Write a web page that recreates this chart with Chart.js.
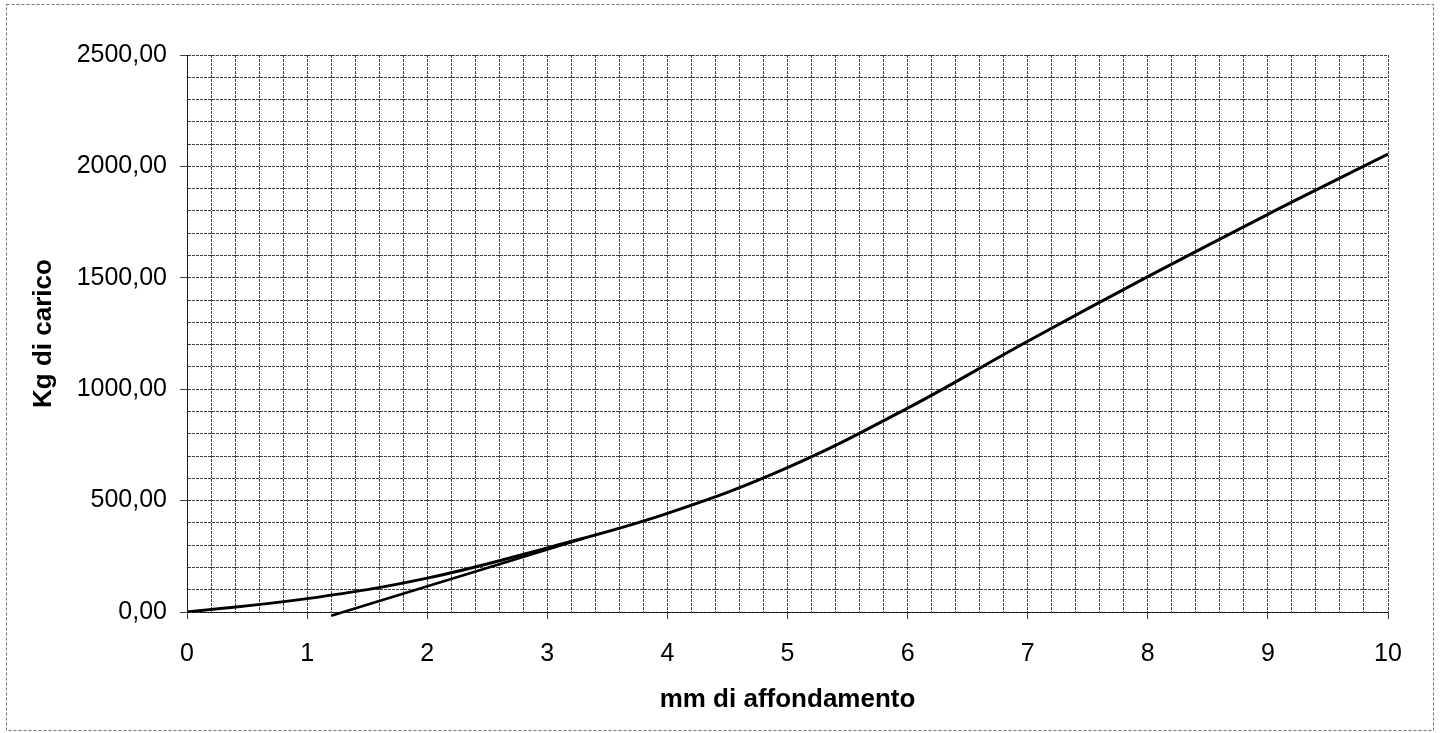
<!DOCTYPE html>
<html>
<head>
<meta charset="utf-8">
<script src="https://cdn.jsdelivr.net/npm/chart.js@4"></script>
<style>
html,body{margin:0;padding:0;background:#fff;}
canvas{display:block;}
</style>
</head>
<body>
<canvas id="c" width="1443" height="733"></canvas>
<script>
const depthMm = [0, 1, 2, 3, 4, 5, 6, 7, 8, 9, 10];
const loadKg = [0, 60, 152, 288, 443, 648, 915, 1215, 1505, 1785, 2055];
const tangentMm = [1.2, 3.3];
const tangentKg = [-17, 330];
const xTickLabels = ['0','1','2','3','4','5','6','7','8','9','10'];
const yTickLabels = ['0,00','500,00','1000,00','1500,00','2000,00','2500,00'];
const xTitle = 'mm di affondamento';
const yTitle = 'Kg di carico';

const FONT = "'Liberation Sans', Arial, sans-serif";
const isInt = v => Math.abs(v - Math.round(v)) < 1e-6;
const isMajorY = v => Math.abs(v / 500 - Math.round(v / 500)) < 1e-6;

const frame = {
  id: 'frame',
  beforeDraw(chart) {
    const ctx = chart.ctx;
    ctx.save();
    ctx.fillStyle = '#fff';
    ctx.fillRect(0, 0, chart.width, chart.height);
    ctx.strokeStyle = 'rgba(0,0,0,0.55)';
    ctx.lineWidth = 1;
    ctx.setLineDash([3, 2]);
    ctx.strokeRect(6.5, 4.5, 1427, 726);
    ctx.restore();
  }
};

const gridColor = 'rgba(0,0,0,0.75)';

new Chart(document.getElementById('c'), {
  type: 'scatter',
  data: {
    datasets: [
      {
        data: depthMm.map((x, i) => ({x, y: loadKg[i]})),
        showLine: true,
        borderColor: '#000',
        borderWidth: 3,
        pointRadius: 0,
        tension: 0.4,
        fill: false
      },
      {
        data: tangentMm.map((x, i) => ({x, y: tangentKg[i]})),
        showLine: true,
        borderColor: '#000',
        borderWidth: 2.5,
        pointRadius: 0,
        tension: 0,
        fill: false,
        clip: 10
      }
    ]
  },
  options: {
    responsive: false,
    animation: false,
    layout: {padding: {left: 0, right: 55, top: 55, bottom: 0}},
    plugins: {legend: {display: false}, tooltip: {enabled: false}},
    scales: {
      x: {
        type: 'linear',
        min: 0, max: 10,
        afterFit(s) { s.height = 121; },
        ticks: {
          stepSize: 0.2,
          autoSkip: false,
          maxRotation: 0,
          color: '#000',
          padding: 20,
          font: {family: FONT, size: 25},
          callback: v => isInt(v) ? xTickLabels[Math.round(v)] : ''
        },
        grid: {
          color: gridColor,
          lineWidth: 1,
          tickLength: 7,
          tickColor: ctx => (ctx.tick && isInt(ctx.tick.value)) ? gridColor : 'rgba(0,0,0,0)'
        },
        border: {display: true, color: gridColor, dash: [3, 1]},
        title: {
          display: true,
          text: xTitle,
          color: '#000',
          font: {family: FONT, size: 26, weight: 'bold'},
          padding: {top: 0, bottom: 18}
        }
      },
      y: {
        type: 'linear',
        min: 0, max: 2500,
        afterFit(s) { s.width = 187; },
        ticks: {
          stepSize: 100,
          autoSkip: false,
          color: '#000',
          padding: 13,
          font: {family: FONT, size: 25},
          callback: v => isMajorY(v) ? yTickLabels[Math.round(v / 500)] : ''
        },
        grid: {
          color: gridColor,
          lineWidth: 1,
          tickLength: 7,
          tickColor: ctx => (ctx.tick && isMajorY(ctx.tick.value)) ? gridColor : 'rgba(0,0,0,0)'
        },
        border: {display: true, color: gridColor, dash: [3, 1]},
        title: {
          display: true,
          text: yTitle,
          color: '#000',
          font: {family: FONT, size: 26, weight: 'bold'},
          padding: {top: 28, bottom: 0}
        }
      }
    }
  },
  plugins: [frame]
});
</script>
</body>
</html>
